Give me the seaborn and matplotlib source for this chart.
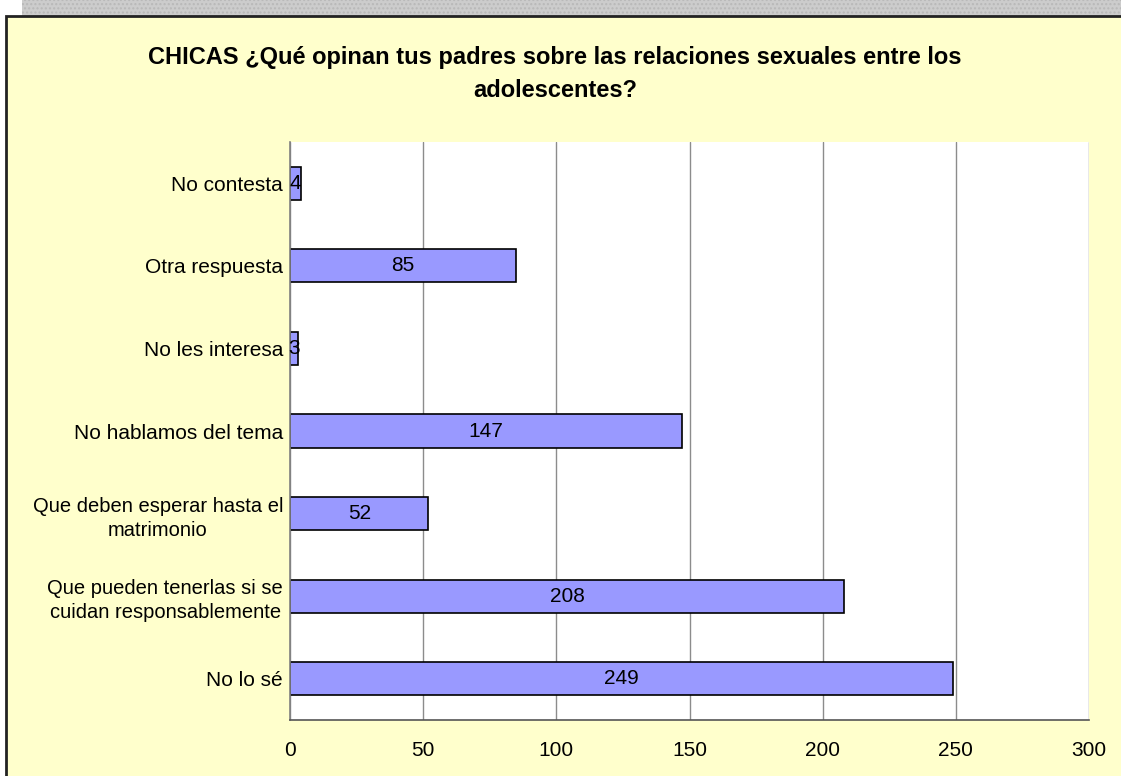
import matplotlib
matplotlib.use("Agg")
import matplotlib.pyplot as plt
import seaborn as sns
import pandas as pd
from matplotlib.patches import Rectangle

# Chart data
categories = [
    "No contesta",
    "Otra respuesta",
    "No les interesa",
    "No hablamos del tema",
    "Que deben esperar hasta el\nmatrimonio",
    "Que pueden tenerlas si se\ncuidan responsablemente",
    "No lo sé",
]
counts = [4, 85, 3, 147, 52, 208, 249]
x_ticks = [0, 50, 100, 150, 200, 250, 300]

title = ("CHICAS ¿Qué opinan tus padres sobre las relaciones sexuales entre los\n"
         "adolescentes?")

df = pd.DataFrame({"respuesta": categories, "n": counts})

sns.set_style("white")
plt.rcParams["font.family"] = ["Liberation Sans", "DejaVu Sans"]
plt.rcParams["text.color"] = "black"
plt.rcParams["xtick.color"] = "black"
plt.rcParams["ytick.color"] = "black"

W, H = 1121, 776
fig = plt.figure(figsize=(W / 100, H / 100), dpi=100)
fig.patch.set_facecolor("white")

# grey shadow strip on top and yellow chart area with border
fig.patches.append(Rectangle((22 / W, (H - 16) / H), 1, 16 / H, transform=fig.transFigure,
                             facecolor="#cccccc", edgecolor="#b8b8b8", hatch="....",
                             linewidth=0, zorder=-3))
fig.patches.append(Rectangle((6 / W, -0.01), 1.2, (H - 16) / H + 0.01, transform=fig.transFigure,
                             facecolor="#ffffcc", edgecolor="#222222", linewidth=2, zorder=-2))

ax = fig.add_axes([290 / W, (H - 720) / H, 799 / W, 578 / H])
ax.set_facecolor("white")

sns.barplot(data=df, x="n", y="respuesta", orient="h", color="#9999ff",
            edgecolor="black", linewidth=1.2, width=0.4, saturation=1, ax=ax)

for c in ax.containers:
    ax.bar_label(c, label_type="center", fontsize=15, color="black")

ax.set_xlim(0, 300)
ax.set_ylim(len(categories) - 0.5, -0.5)
ax.set_xticks(x_ticks)
ax.set_xticklabels([str(t) for t in x_ticks], fontsize=15)
ax.set_xlabel("")
ax.set_ylabel("")
ax.grid(axis="x", color="#8c8c8c", linewidth=1)
ax.set_axisbelow(True)

# y labels without tick marks, minor ticks between categories
ax.tick_params(axis="y", which="major", length=0, pad=5, labelsize=15)
for lab in ax.get_yticklabels():
    lab.set_multialignment("center")
    if "\n" in lab.get_text():
        lab.set_fontsize(14.5)
        lab.set_linespacing(1.35)
ax.set_yticks([i + 0.5 for i in range(-1, len(categories))], minor=True)
ax.tick_params(axis="y", which="minor", length=6, color="#555555", direction="out")
ax.tick_params(axis="x", length=6, color="#555555", direction="out", pad=9)

for s in ["top", "right"]:
    ax.spines[s].set_visible(False)
ax.spines["left"].set_color("#808080")
ax.spines["bottom"].set_color("#555555")
ax.spines["left"].set_linewidth(1.2)
ax.spines["bottom"].set_linewidth(1.2)

fig.text(555 / W, 1 - 74 / H, title, ha="center", va="center", fontsize=17,
         fontweight="bold", linespacing=1.55, color="black")

fig.savefig("out.png", dpi=100)
